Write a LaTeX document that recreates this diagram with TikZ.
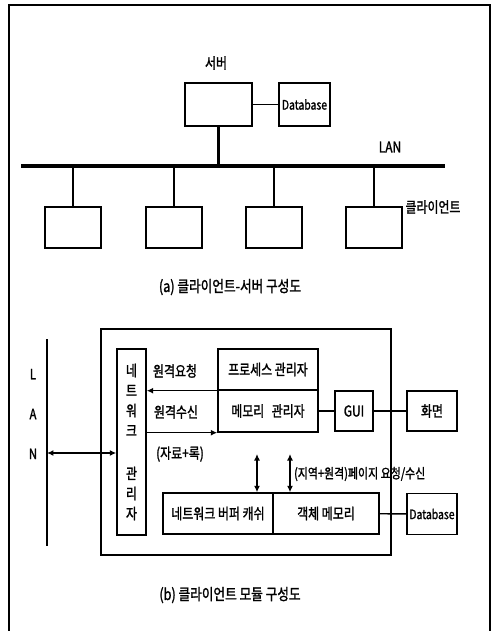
\documentclass[tikz,border=0pt]{standalone}
\usepackage{fontspec}
\setmainfont{Noto Sans CJK KR}[FakeStretch=0.8, FakeBold=1.5]
\usetikzlibrary{positioning,arrows.meta}
\tikzset{
  box/.style={draw, thick, inner sep=0pt, align=center},
  frameline/.style={line width=1pt},
  bus/.style={line width=2.2pt},
  drop/.style={line width=1.2pt},
  link/.style={thick},
  flow/.style={-{Latex[length=1.3mm, width=1.2mm]}, thick},
  dflow/.style={{Latex[length=1.3mm, width=1.2mm]}-{Latex[length=1.3mm, width=1.2mm]}, thick},
  txt/.style={inner sep=1pt},
  dbtext/.style={font=\fontsize{7.4}{8}\selectfont},
  caption/.style={font=\fontsize{9}{10}\selectfont}
}

\begin{document}
\begin{tikzpicture}[x=0.02cm, y=-0.02cm, >=Latex, every node/.style={font=\fontsize{8.5}{9}\selectfont}]
      \useasboundingbox (0,0) rectangle (492,631);
      \draw[frameline] (9,631) -- (9,5) -- (490,5) -- (490,631);
      % (a)
      \node[txt] (srvlbl) at (216,63) {서버};
      \node[box, minimum width=1.34cm, minimum height=0.86cm] (srv) at (218.5,104.5) {};
      \node[box, dbtext, minimum width=1.02cm, minimum height=0.86cm] (db) at (304.5,104.5) {Database};
      \draw[link] (srv) -- (db);
      \coordinate (lanL) at (21,166);
      \coordinate (lanR) at (445,166);
      \draw[bus] (lanL) -- (lanR);
      \node[txt] (lanlbl) at (390,147) {LAN};
      \draw[drop] (srv.south) -- (srv.south |- lanL);
      \foreach \i/\x in {1/73,2/174,3/274,4/374} {
        \node[box, minimum width=1.12cm, minimum height=0.82cm] (cl\i) at (\x,227.5) {};
        \draw[drop] (cl\i.north |- lanL) -- (cl\i.north);
      }
      \node[txt] (cllbl) at (433,207) {클라이언트};
      \node[caption] (capa) at (230,287) {(a) 클라이언트-서버 구성도};
      % (b)
      \node[box, minimum width=5.8cm, minimum height=4.52cm] (mod) at (246,442) {};
      \coordinate (lanT) at (47,339);
      \coordinate (lanB) at (47,546);
      \draw[drop] (lanT) -- (lanB);
      \node[txt, align=center, font=\fontsize{8}{22.7}\selectfont] (lanv) at (33,414) {L\\A\\N};
      \node[box, minimum width=0.58cm, minimum height=3.72cm, font=\fontsize{8.5}{11.4}\selectfont] (net) at (131.5,442) {네\\트\\워\\크\\[13pt]관\\리\\자};
      \coordinate (tap) at (47,453);
      \draw[dflow] (tap) -- (tap -| net.west);
      \node[box, minimum width=2.0cm, minimum height=0.82cm] (proc) at (268,369.5) {프로세스 관리자};
      \node[box, minimum width=2.0cm, minimum height=0.84cm] (mem) at (268,411) {메모리\enspace 관리자};
      \draw[flow] (proc.south east) -- (proc.south east -| net.east);
      \draw[flow] (net.east |- mem.south) -- (mem.south west);
      \node[txt] (reqlbl) at (175,371) {원격요청};
      \node[txt] (rcvlbl) at (176,412) {원격수신};
      \node[txt] (datlbl) at (180,454) {(자료+록)};
      \node[box, minimum width=0.76cm, minimum height=0.8cm] (gui) at (354,411) {GUI};
      \node[box, minimum width=1.0cm, minimum height=0.8cm] (scr) at (432,411) {화면};
      \draw[link] (mem) -- (gui);
      \draw[link] (gui) -- (scr);
      \node[box, minimum width=2.2cm, minimum height=0.82cm] (buf) at (218,513.5) {네트워크 버퍼 캐쉬};
      \node[box, minimum width=2.12cm, minimum height=0.82cm] (obj) at (326,513.5) {객체 메모리};
      \node[box, dbtext, minimum width=1.0cm, minimum height=0.82cm] (db2) at (432,514) {Database};
      \draw[link] (obj) -- (db2);
      \coordinate (q1) at (257,454);
      \coordinate (q2) at (290,454);
      \draw[dflow] (q1) -- (q1 |- buf.north);
      \draw[dflow] (q2) -- (q2 |- obj.north);
      \node[txt, anchor=west, font=\fontsize{7.8}{9}\selectfont] (pglbl) at (292,474) {(지역+원격)페이지 요청/수신};
      \node[caption] (capb) at (230,595) {(b) 클라이언트 모듈 구성도};
\end{tikzpicture}
\end{document}
